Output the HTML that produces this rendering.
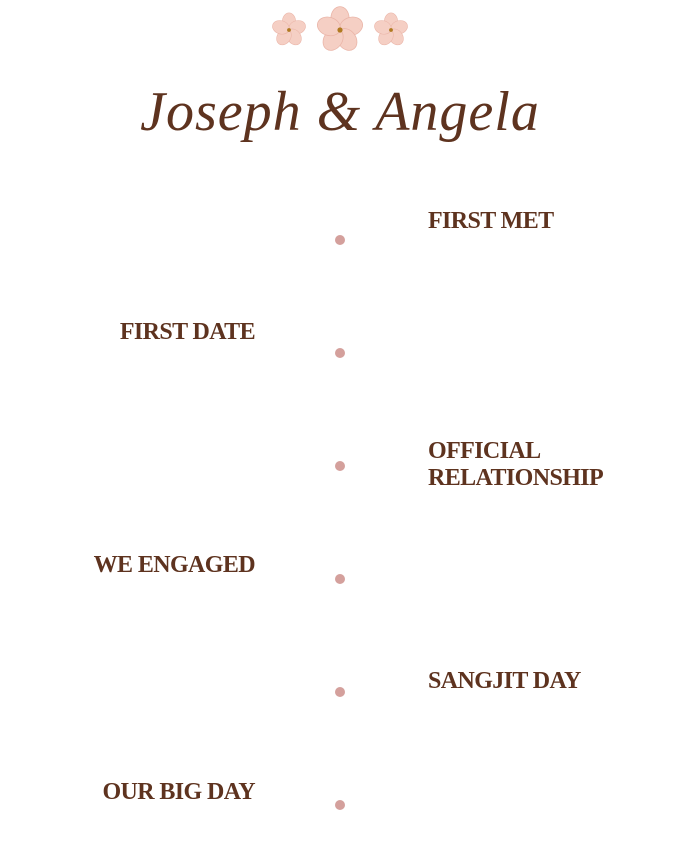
<!DOCTYPE html>
<html><head><style>
body{margin:0;width:680px;height:842px;background:#fff;position:relative;overflow:hidden;font-family:"Liberation Serif",serif}
.t{position:absolute;font-weight:bold;font-size:24px;color:#5e331f;line-height:27px;white-space:nowrap;letter-spacing:-0.6px}
.l{right:425px;text-align:right}
.r{left:428px}
.d{position:absolute;left:335px;width:10px;height:10px;border-radius:50%;background:#d4a09c}
.title{position:absolute;left:0;width:680px;top:80px;text-align:center;font-family:"Liberation Serif",serif;font-style:italic;font-size:56px;color:#5e331f;letter-spacing:1px}
</style></head><body>
<svg style="position:absolute;left:0;top:0" width="680" height="60">
<defs><g id="f"><g fill="#f5cfc4" stroke="#eab5a8" stroke-width="0.6">
<ellipse cx="0" cy="-9" rx="7" ry="9"/><ellipse cx="0" cy="-9" rx="7" ry="9" transform="rotate(72)"/><ellipse cx="0" cy="-9" rx="7" ry="9" transform="rotate(144)"/><ellipse cx="0" cy="-9" rx="7" ry="9" transform="rotate(216)"/><ellipse cx="0" cy="-9" rx="7" ry="9" transform="rotate(288)"/></g><circle r="2" fill="#b07a20"/></g></defs>
<use href="#f" transform="translate(289,30) scale(0.95)"/>
<use href="#f" transform="translate(340,30) scale(1.3)"/>
<use href="#f" transform="translate(391,30) scale(0.95)"/>
</svg>
<div class="title">Joseph &amp; Angela</div>
<div class="t r" style="top:208px">FIRST MET</div><div class="d" style="top:235px"></div>
<div class="t l" style="top:319px">FIRST DATE</div><div class="d" style="top:348px"></div>
<div class="t r" style="top:438px">OFFICIAL<br>RELATIONSHIP</div><div class="d" style="top:461px"></div>
<div class="t l" style="top:552px">WE ENGAGED</div><div class="d" style="top:574px"></div>
<div class="t r" style="top:668px">SANGJIT DAY</div><div class="d" style="top:687px"></div>
<div class="t l" style="top:779px">OUR BIG DAY</div><div class="d" style="top:800px"></div>
</body></html>
